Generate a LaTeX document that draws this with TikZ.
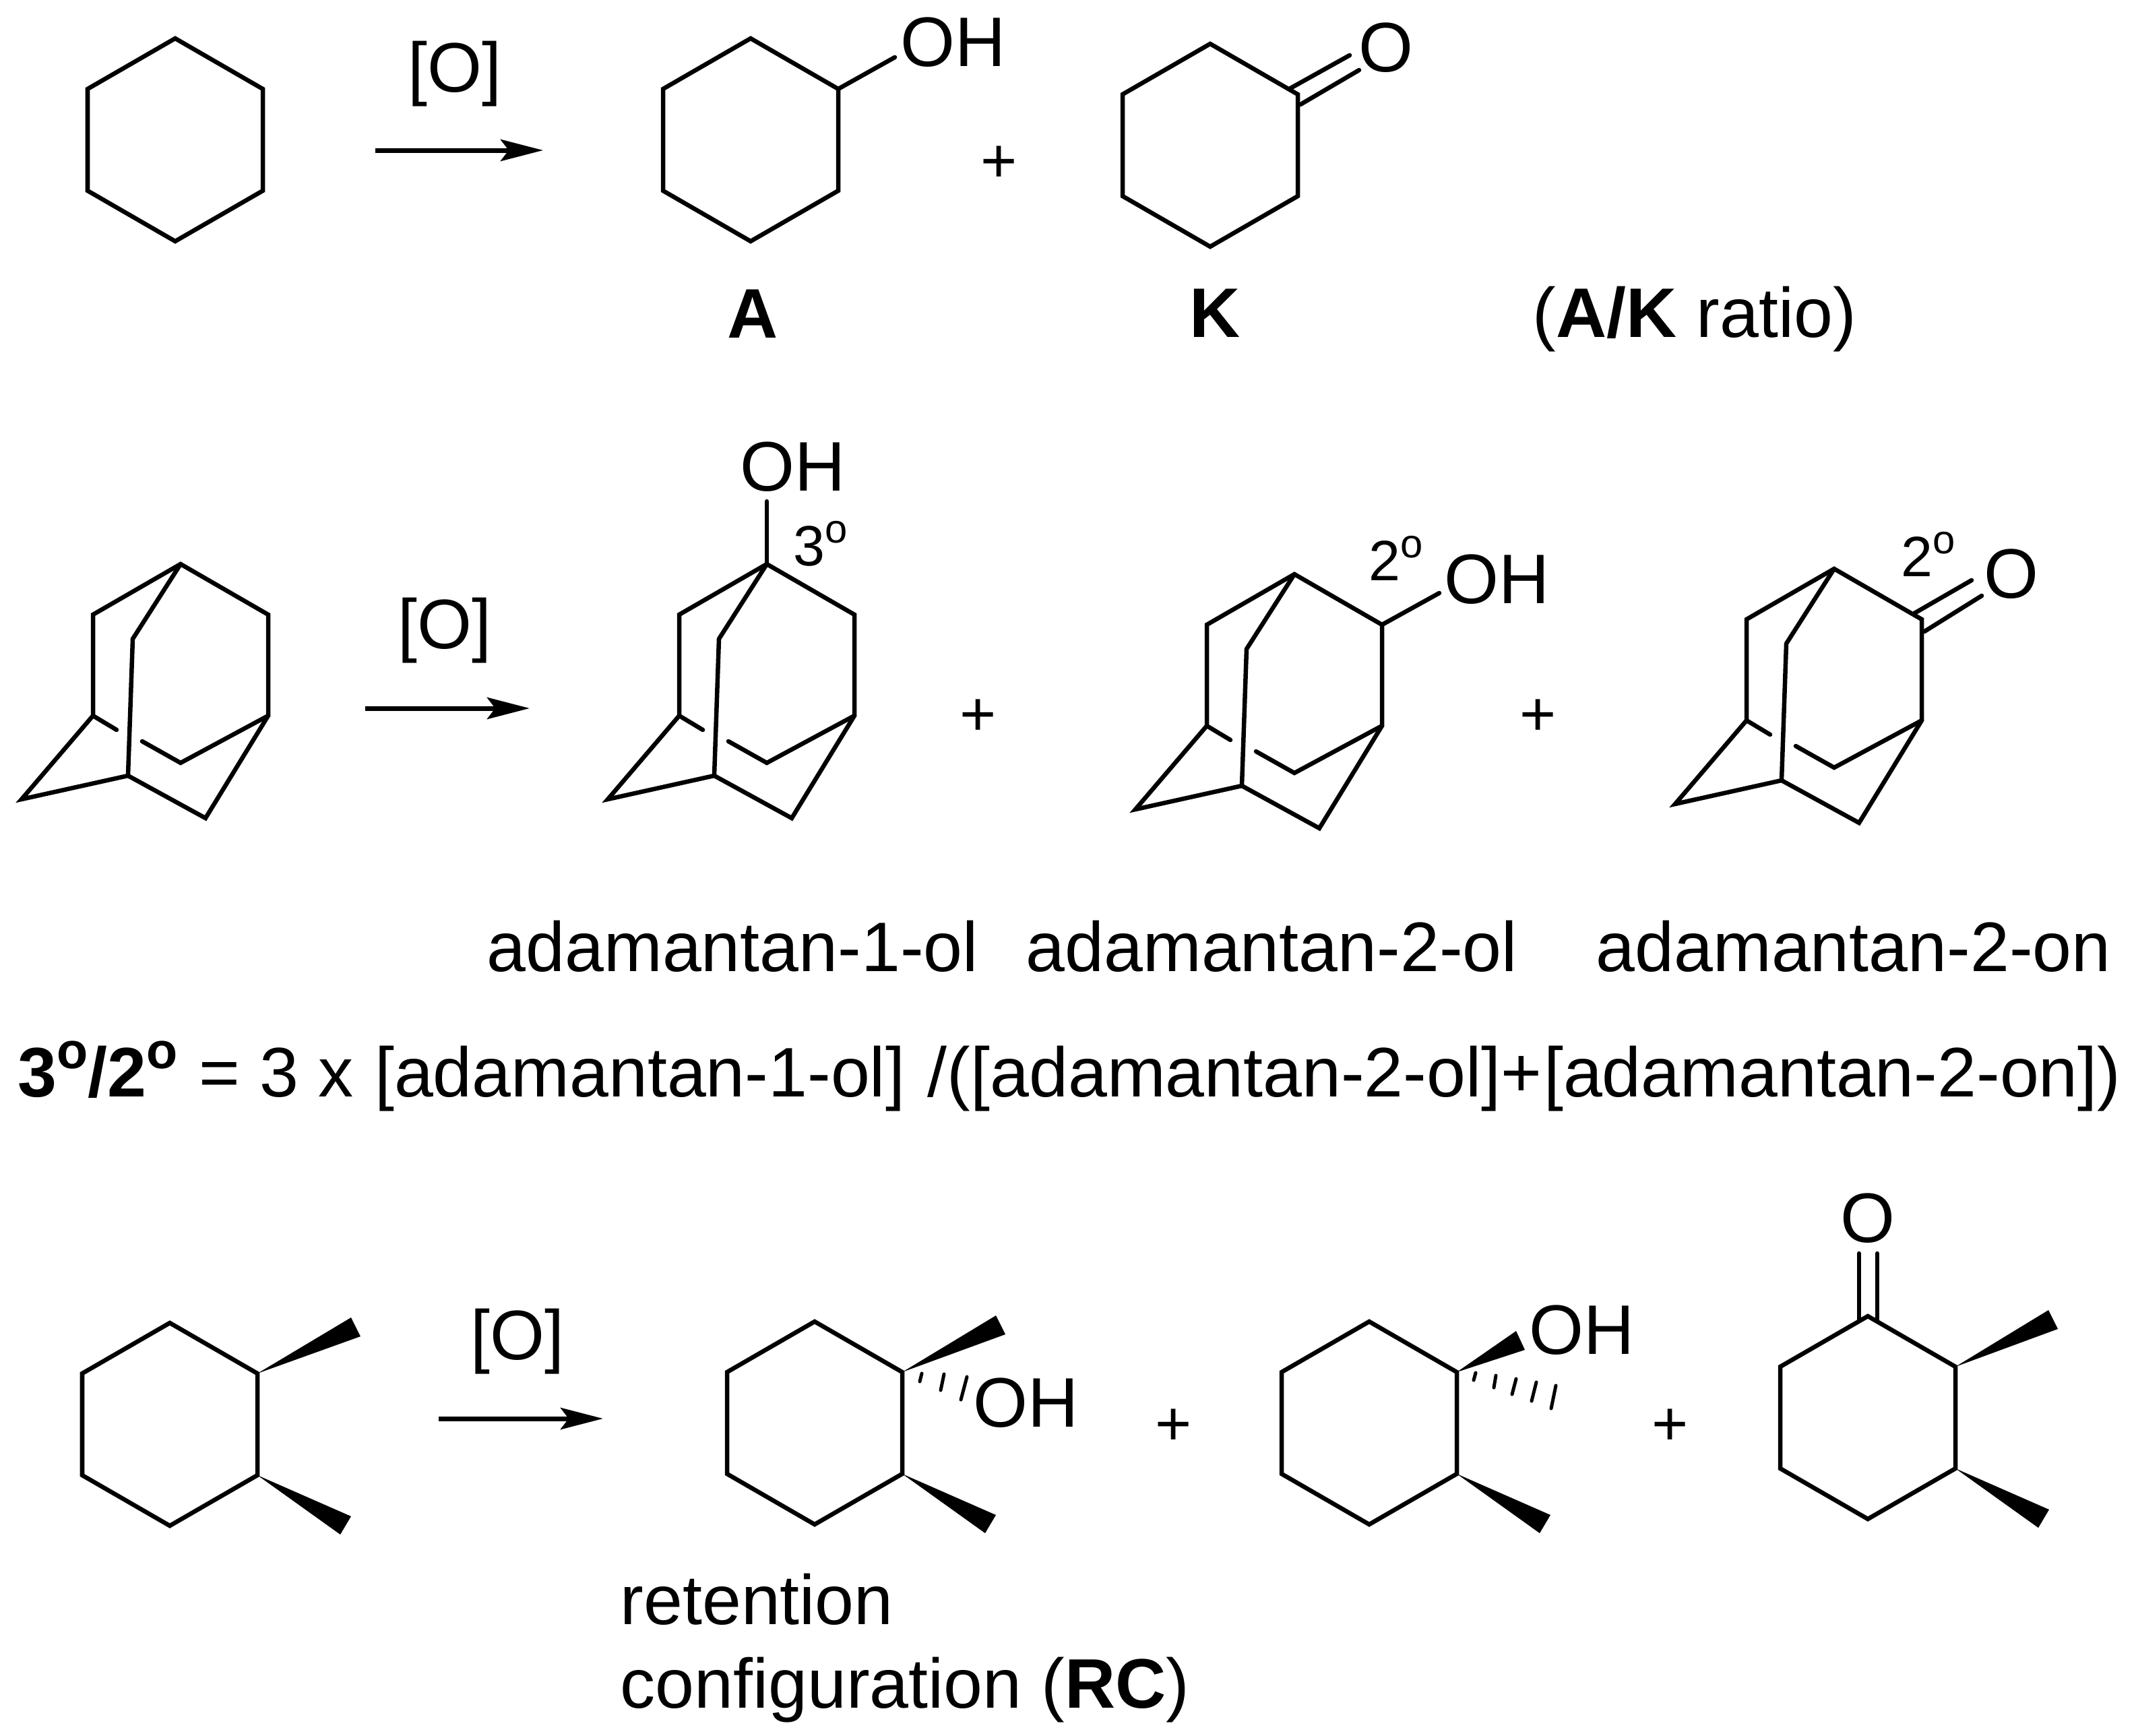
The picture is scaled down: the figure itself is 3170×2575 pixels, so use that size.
\documentclass[tikz,border=0pt]{standalone}
\usepackage{fontspec}
\setmainfont{Liberation Sans}[Ligatures=CommonOff]
\usetikzlibrary{arrows.meta}
\newcommand{\degr}[1]{\raisebox{0.40em}{\fontsize{#1}{#1}\selectfont o}}
\tikzset{
	bond/.style={line width=0.065cm,line cap=round},
	hash/.style={line width=0.05cm,line cap=round},
	rxn/.style={line width=0.07cm,-{Stealth[length=0.63cm,width=0.32cm,inset=0.12cm]}},
	atom/.style={inner sep=0pt,anchor=base west,font=\fontsize{29.6pt}{36pt}\selectfont},
	label/.style={atom},
	oxid/.style={atom,anchor=base},
	plus/.style={inner sep=0pt,anchor=base,font=\fontsize{26.4pt}{30pt}\selectfont},
	deg/.style={inner sep=0pt,anchor=base west,font=\fontsize{24pt}{26pt}\selectfont},
	pics/hexring/.style={code={
		\coordinate (-a) at (0,0);
		\coordinate (-ul) at (-130,75);
		\coordinate (-ur) at (130,75);
		\coordinate (-lr) at (130,226);
		\coordinate (-ll) at (-130,226);
		\coordinate (-b) at (0,301);
		\draw[bond] (-a) -- (-ur) -- (-lr) -- (-b) -- (-ll) -- (-ul) -- cycle;
	}},
	pics/dimering/.style={code={
		\pic (-r) at (0,0) {hexring};
		\fill (-r-lr) -- ++(139,61) -- ++(-16,27) -- cycle;
	}},
	pics/adamantane/.style={code={
		\coordinate (-t) at (0,0);
		\coordinate (-lu) at (-130,75);
		\coordinate (-ru) at (130,75);
		\coordinate (-ll) at (-130,225);
		\coordinate (-rl) at (130,225);
		\coordinate (-ib) at (-71,111);
		\coordinate (-ic) at (-78,314);
		\coordinate (-fl) at (-236,349);
		\coordinate (-fb) at (37,377);
		\coordinate (-vb) at (0,295);
		\coordinate (-vl) at (-57,263);
		\coordinate (-st) at (-95,246);
		\draw[bond] (-ll) -- (-lu) -- (-t) -- (-ru) -- (-rl) -- (-fb) -- (-ic) -- (-fl) -- (-ll) -- (-st);
		\draw[bond] (-t) -- (-ib) -- (-ic);
		\draw[bond] (-rl) -- (-vb) -- (-vl);
	}}
}
\begin{document}
\begin{tikzpicture}[x=0.01cm,y=-0.01cm]
	\useasboundingbox (0,0) rectangle (3170,2575);
	% first row
	\pic (cy) at (260,57) {hexring};
	\coordinate (arr1a) at (557,223);
	\coordinate (arr1b) at (806,223);
	\draw[rxn] (arr1a) -- (arr1b);
	\node[oxid] (ox1) at (675,136) {[O]};
	\pic (ol) at (1114,57) {hexring};
	\coordinate (ol-end) at (1328,85);
	\draw[bond] (ol-ur) -- (ol-end);
	\node[atom] (ol-oh) at (1336,98) {OH};
	\node[plus] (pl1) at (1483,270) {+};
	\pic (on) at (1796,65) {hexring};
	\draw[bond] (on-ur) ++(-11,-9) -- ++(88,-49);
	\draw[bond] (on-ur) ++(4,15) -- ++(87,-51);
	\node[atom] (on-o) at (2016,106) {O};
	\node[label,anchor=base] (lab-a) at (1117,501) {\textbf{A}};
	\node[label,anchor=base] (lab-k) at (1803,500) {\textbf{K}};
	\node[label] (lab-ratio) at (2274,500) {(\textbf{A/K} ratio)};
	% second row
	\pic (ad0) at (268,837) {adamantane};
	\coordinate (arr2a) at (542,1051);
	\coordinate (arr2b) at (786,1051);
	\draw[rxn] (arr2a) -- (arr2b);
	\node[oxid] (ox2) at (660,962) {[O]};
	\pic (ad1) at (1138,837) {adamantane};
	\coordinate (ad1-end) at (1138,744);
	\draw[bond] (ad1-t) -- (ad1-end);
	\node[atom] (ad1-oh) at (1098,728) {OH};
	\node[deg] (deg1) at (1177,839) {3\degr{17pt}};
	\node[plus] (pl2) at (1452,1091) {+};
	\pic (ad2) at (1921,852) {adamantane};
	\coordinate (ad2-end) at (2136,880);
	\draw[bond] (ad2-ru) -- (ad2-end);
	\node[atom] (ad2-oh) at (2143,895) {OH};
	\node[deg] (deg2) at (2031,861) {2\degr{17pt}};
	\node[plus] (pl3) at (2283,1091) {+};
	\pic (ad3) at (2722,844) {adamantane};
	\draw[bond] (ad3-ru) ++(-11,-9) -- ++(85,-49);
	\draw[bond] (ad3-ru) ++(4,18) -- ++(85,-53);
	\node[atom] (ad3-o) at (2944,887) {O};
	\node[deg] (deg3) at (2821,855) {2\degr{17pt}};
	\node[label] (lab-1ol) at (722,1441) {adamantan-1-ol};
	\node[label] (lab-2ol) at (1522,1441) {adamantan-2-ol};
	\node[label] (lab-2on) at (2368,1441) {adamantan-2-on};
	\node[label] (formula) at (26,1627) {\textbf{3\degr{21.5pt}/2\degr{21.5pt}}\hspace{0.03cm} = 3 x\hspace{0.03cm} [adamantan-1-ol]\hspace{0.05cm} /([adamantan-2-ol]+\hspace{0.03cm}[adamantan-2-on])};
	% third row
	\pic (me) at (252,1963) {dimering};
	\fill (me-r-ur) -- ++(139,-83) -- ++(14,28) -- cycle;
	\coordinate (arr3a) at (651,2105);
	\coordinate (arr3b) at (895,2105);
	\draw[rxn] (arr3a) -- (arr3b);
	\node[oxid] (ox3) at (768,2017) {[O]};
	\pic (rc) at (1209,1961) {dimering};
	\fill (rc-r-ur) -- ++(139,-84) -- ++(14,28) -- cycle;
	\foreach \xa/\ya/\xb/\yb in {29/2/26/14,62/3/57/27,96/7/87/41}
		\draw[hash] (rc-r-ur) ++(\xa,\ya) -- ++(\xb-\xa,\yb-\ya);
	\node[atom] (rc-oh) at (1444,2117) {OH};
	\node[plus] (pl4) at (1742,2144) {+};
	\pic (inv) at (2032,1961) {dimering};
	\fill (inv-r-ur) -- ++(88,-61) -- ++(13,28) -- cycle;
	\foreach \xa/\ya/\xb/\yb in {28/1/25/12,58/5/55/23,88/10/82/33,118/15/111/43,147/20/140/54}
		\draw[hash] (inv-r-ur) ++(\xa,\ya) -- ++(\xb-\xa,\yb-\ya);
	\node[atom] (inv-oh) at (2269,2009) {OH};
	\node[plus] (pl5) at (2479,2144) {+};
	\pic (kt) at (2772,1953) {dimering};
	\fill (kt-r-ur) -- ++(138,-84) -- ++(14,28) -- cycle;
	\draw[bond] (kt-r-a) ++(-13,7) -- ++(0,-100);
	\draw[bond] (kt-r-a) ++(14,7) -- ++(0,-100);
	\node[atom] (kt-o) at (2731,1843) {O};
	\node[label] (lab-rc1) at (920,2410) {retention};
	\node[label] (lab-rc2) at (920,2534) {configuration (\textbf{RC})};
\end{tikzpicture}
\end{document}
